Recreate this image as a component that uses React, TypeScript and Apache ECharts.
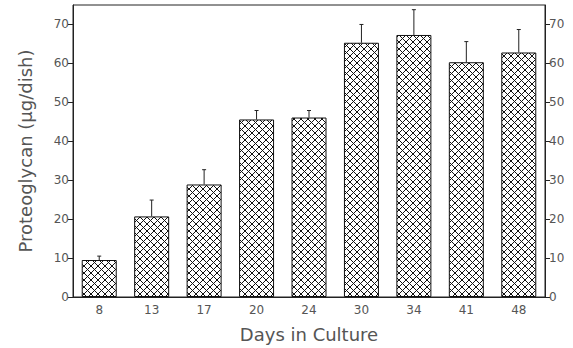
import React, { useEffect, useRef } from "react";
import * as echarts from "echarts";

const categories = ["8", "13", "17", "20", "24", "30", "34", "41", "48"];
const means = [9.5, 20.7, 28.9, 45.6, 46.1, 65.3, 67.3, 60.3, 62.8];
const upper = [10.5, 24.9, 32.7, 47.9, 47.9, 70.0, 73.8, 65.6, 68.7];
const yTicks = [0, 10, 20, 30, 40, 50, 60, 70];

function makeHatch(): string {
  const c = document.createElement("canvas");
  const s = 7;
  c.width = s;
  c.height = s;
  const ctx = c.getContext("2d")!;
  ctx.fillStyle = "#ffffff";
  ctx.fillRect(0, 0, s, s);
  ctx.strokeStyle = "#111";
  ctx.lineWidth = 1;
  ctx.beginPath();
  ctx.moveTo(-1, -1);
  ctx.lineTo(s + 1, s + 1);
  ctx.moveTo(-1, s + 1);
  ctx.lineTo(s + 1, -1);
  ctx.stroke();
  return c.toDataURL();
}

export default function App() {
  const ref = useRef<HTMLDivElement>(null);
  useEffect(() => {
    if (!ref.current) return;
    const chart = echarts.init(ref.current, null, { renderer: "svg" });
    const hatch = makeHatch();
    const font = "DejaVu Sans";
    const textColor = "#555";
    const yAxisCommon = {
      type: "value" as const,
      min: 0,
      max: 75,
      interval: 10,
      splitLine: { show: false },
      axisLine: { show: true, lineStyle: { color: "#222", width: 1 } },
      axisTick: { show: true, length: 5, lineStyle: { color: "#222" } },
      axisLabel: {
        color: textColor,
        fontFamily: font,
        fontSize: 12,
        margin: 4,
        formatter: (v: number) => (yTicks.includes(v) ? String(v) : ""),
        showMaxLabel: false,
      },
    };
    chart.setOption({
      animation: false,
      backgroundColor: "#fff",
      grid: {
        left: 73,
        right: 28,
        top: 5,
        bottom: 48,
        show: true,
        borderColor: "#222",
        borderWidth: 1,
        backgroundColor: "transparent",
      },
      xAxis: {
        type: "category",
        data: categories,
        axisTick: { show: false },
        axisLine: { lineStyle: { color: "#222" } },
        axisLabel: { color: textColor, fontFamily: font, fontSize: 12, margin: 7 },
        name: "Days in Culture",
        nameLocation: "middle",
        nameGap: 28,
        nameTextStyle: { color: textColor, fontFamily: font, fontSize: 18 },
      },
      yAxis: [
        {
          ...yAxisCommon,
          position: "left",
          name: "Proteoglycan (µg/dish)",
          nameLocation: "middle",
          nameGap: 39,
          nameTextStyle: { color: textColor, fontFamily: font, fontSize: 18 },
        },
        { ...yAxisCommon, position: "right" },
      ],
      series: [
        {
          type: "bar",
          data: means,
          barWidth: 35,
          itemStyle: {
            color: { image: hatch, repeat: "repeat" },
            borderColor: "#111",
            borderWidth: 1,
          },
          z: 2,
        },
        {
          type: "custom",
          data: means.map((m, i) => [i, m, upper[i]]),
          z: 3,
          renderItem: (params: any, api: any) => {
            const i = api.value(0);
            const b = api.coord([i, api.value(1)]);
            const t = api.coord([i, api.value(2)]);
            const style = { stroke: "#222", lineWidth: 1 };
            return {
              type: "group",
              children: [
                { type: "line", shape: { x1: b[0], y1: b[1], x2: t[0], y2: t[1] }, style },
                { type: "line", shape: { x1: t[0] - 2, y1: t[1], x2: t[0] + 2, y2: t[1] }, style },
              ],
            };
          },
        },
      ],
    });
    return () => chart.dispose();
  }, []);
  return <div ref={ref} style={{ width: 573, height: 348, position: "absolute", left: 0, top: 0 }} />;
}
